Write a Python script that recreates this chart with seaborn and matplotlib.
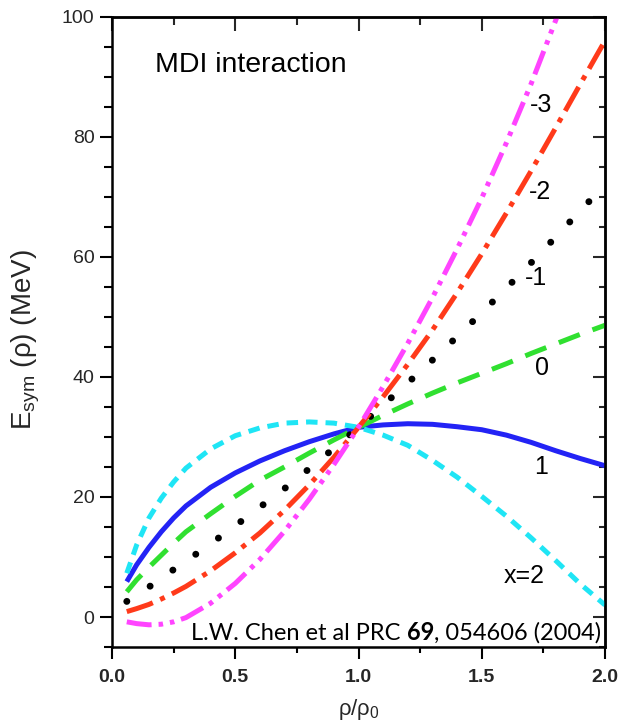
import numpy as np
import pandas as pd
import matplotlib
matplotlib.use("Agg")
import matplotlib.pyplot as plt
import seaborn as sns
from matplotlib.ticker import MultipleLocator, FormatStrFormatter
from matplotlib.offsetbox import TextArea, HPacker, AnchoredOffsetbox

# ---------------- data ----------------
rho = [0.06, 0.1, 0.15, 0.2, 0.25, 0.3, 0.4, 0.5, 0.6, 0.7, 0.8, 0.9, 1.0,
       1.1, 1.2, 1.3, 1.4, 1.5, 1.6, 1.7, 1.8, 1.9, 2.0]

esym_x1 = [5.9, 8.7, 11.6, 14.2, 16.5, 18.5, 21.6, 24.0, 26.0, 27.7, 29.2, 30.5, 31.6,
           32.0, 32.2, 32.1, 31.7, 31.2, 30.3, 29.1, 27.7, 26.4, 25.2]
esym_x2 = [7.3, 12.0, 16.5, 19.8, 22.5, 24.8, 28.0, 30.2, 31.5, 32.3, 32.5, 32.3, 31.6,
           30.3, 28.6, 26.1, 23.3, 20.1, 16.8, 13.2, 9.4, 5.5, 2.0]
esym_x0 = [4.2, 6.2, 8.3, 10.3, 12.3, 14.2, 17.2, 20.1, 22.8, 25.0, 27.3, 29.5, 31.6,
           33.6, 35.5, 37.3, 39.0, 40.6, 42.2, 43.9, 45.5, 47.1, 48.6]
esym_xm1 = [2.6, 3.6, 5.0, 6.5, 7.9, 9.3, 12.2, 15.2, 18.3, 21.4, 24.7, 28.1, 31.6,
            35.3, 39.0, 42.8, 46.7, 50.7, 54.8, 59.0, 63.3, 67.7, 72.0]
esym_xm2 = [0.9, 1.4, 2.1, 3.0, 4.0, 5.1, 7.7, 10.7, 14.0, 17.8, 22.0, 26.6, 31.6,
            36.7, 42.1, 47.8, 54.0, 60.5, 67.3, 74.3, 81.5, 88.8, 96.0]
esym_xm3 = [-0.8, -1.1, -1.3, -1.2, -0.8, -0.1, 2.3, 5.6, 9.6, 14.3, 19.6, 25.4, 31.6,
            38.4, 45.6, 53.2, 61.3, 69.8, 79.0, 88.8, 99.4, 110.5, 122.0]

curve_labels = ["1", "x=2", "0", "-1", "-2", "-3"]
label_x = [1.74, 1.672, 1.746, 1.722, 1.735, 1.74]
label_y = [25.0, 6.8, 41.4, 56.4, 70.8, 85.3]

# ---------------- style ----------------
sns.set_theme(style="ticks")
plt.rcParams["font.family"] = ["Liberation Sans", "DejaVu Sans"]
plt.rcParams["mathtext.fontset"] = "custom"
plt.rcParams["mathtext.rm"] = "Liberation Sans"
plt.rcParams["mathtext.it"] = "Liberation Sans:italic"
plt.rcParams["mathtext.bf"] = "Liberation Sans:bold"
plt.rcParams["axes.linewidth"] = 1.8

fig = plt.figure(figsize=(6.25, 7.27), dpi=100)
ax = fig.add_axes([0.1792, 0.110, 0.7888, 0.867])

LW = 3.6
series = [
    (esym_x1, "#2323F5", "-", "butt", LW),
    (esym_x2, "#1FE5F5", (0, (2.3, 1.6)), "butt", LW),
    (esym_x0, "#30E030", (0, (4.5, 2.7)), "butt", LW),
    (esym_xm1, "#000000", (0, (0.01, 4.0)), "round", 5.0),
    (esym_xm2, "#FF3A1A", (0, (5.5, 1.6, 1.0, 1.6)), "butt", LW),
    (esym_xm3, "#FF44FF", (0, (5.0, 1.4, 0.9, 1.4, 0.9, 1.4)), "butt", LW),
]
for vals, col, ls, cap, lw in series:
    sns.lineplot(x=rho, y=vals, ax=ax, color=col, linewidth=lw, linestyle=ls,
                 dash_capstyle=cap, solid_capstyle="butt", sort=False,
                 estimator=None, legend=False)

ax.set_xlim(0, 2.0)
ax.set_ylim(-5, 100)
ax.set_xlabel("")
ax.set_ylabel("")

ax.xaxis.set_major_locator(MultipleLocator(0.5))
ax.xaxis.set_minor_locator(MultipleLocator(0.25))
ax.yaxis.set_major_locator(MultipleLocator(20))
ax.yaxis.set_minor_locator(MultipleLocator(5))
ax.xaxis.set_major_formatter(FormatStrFormatter("%.1f"))
ax.yaxis.set_major_formatter(FormatStrFormatter("%d"))

ax.tick_params(axis="both", which="both", direction="out", top=False, right=False,
               color="black")
ax.tick_params(axis="x", which="major", length=8.6, width=1.5, pad=7, labelsize=14)
ax.tick_params(axis="x", which="minor", length=4.3, width=1.5)
ax.tick_params(axis="y", which="major", length=8.6, width=1.5, pad=4, labelsize=14)
ax.tick_params(axis="y", which="minor", length=5.5, width=1.5)
for t in ax.get_xticklabels():
    t.set_fontweight("bold")

for s in ax.spines.values():
    s.set_visible(True)
    s.set_linewidth(1.8)
    s.set_color("black")

secx = ax.secondary_xaxis("top")
secx.xaxis.set_major_locator(MultipleLocator(0.5))
secx.xaxis.set_minor_locator(MultipleLocator(0.25))
secx.tick_params(axis="x", which="major", direction="in", length=10, width=1.5,
                 labeltop=False, labelbottom=False)
secx.tick_params(axis="x", which="minor", direction="in", length=5.8, width=1.5)
secx.spines["top"].set_linewidth(1.8)

secy = ax.secondary_yaxis("right")
secy.yaxis.set_major_locator(MultipleLocator(20))
secy.yaxis.set_minor_locator(MultipleLocator(5))
secy.tick_params(axis="y", which="major", direction="in", length=8.6, width=1.5,
                 labelright=False, labelleft=False)
secy.tick_params(axis="y", which="minor", direction="in", length=4.3, width=1.5)
secy.spines["right"].set_linewidth(1.8)

# curve labels
for lab, lx, ly in zip(curve_labels, label_x, label_y):
    ax.text(lx, ly, lab, ha="center", va="center", fontsize=18, color="black")

ax.text(0.174, 92.0, "MDI interaction", ha="left", va="center", fontsize=20.5,
        color="black")

# axis labels
fig.text(26 / 625, 1 - 340 / 727, r"E$_{\mathrm{sym}}$ (ρ) (MeV)", rotation=90,
         ha="center", va="center", fontsize=20)
fig.text(359 / 625, 1 - 710 / 727, r"ρ/ρ$_{\mathrm{0}}$", ha="center", va="center",
         fontsize=16)

# citation
tp = dict(family=["Lato", "DejaVu Sans"], size=17, color="black", style="normal",
          weight="normal")
tpb = dict(family=["Lato", "DejaVu Sans"], size=17, color="black", style="normal",
           weight=700)
box = HPacker(children=[TextArea("L.W. Chen et al PRC ", textprops=tp),
                        TextArea("69", textprops=tpb),
                        TextArea(", 054606 (2004)", textprops=tp)],
              align="baseline", pad=0, sep=0)
anch = AnchoredOffsetbox(loc="lower right", child=box, pad=0, borderpad=0,
                         frameon=False, bbox_to_anchor=(601 / 625, 1 - 644 / 727),
                         bbox_transform=fig.transFigure)
fig.add_artist(anch)

fig.savefig("out.png", dpi=100)
